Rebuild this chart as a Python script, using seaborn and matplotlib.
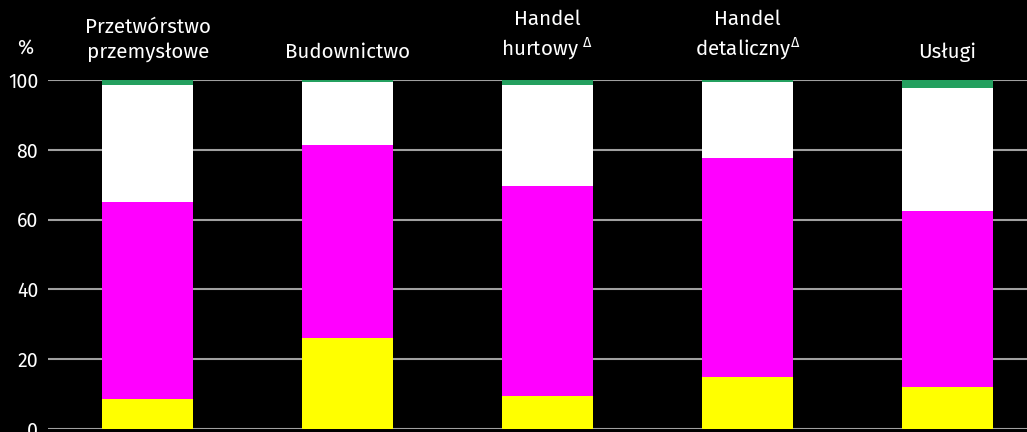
import matplotlib
matplotlib.use("Agg")
import matplotlib.pyplot as plt
import numpy as np
import pandas as pd
import seaborn as sns

categories = ["Przetwórstwo\nprzemysłowe", "Budownictwo", "Handel\nhurtowy $^{\\Delta}$",
              "Handel\ndetaliczny$^{\\Delta}$", "Usługi"]
yellow_vals = [8.6, 26.1, 9.5, 14.9, 12.0]
magenta_vals = [56.4, 55.3, 60.1, 62.8, 50.5]
white_vals = [33.6, 18.0, 29.0, 21.7, 35.2]
green_vals = [1.4, 0.6, 1.4, 0.6, 2.3]
y_ticks = [0, 20, 40, 60, 80, 100]

colors = {"green": "#24a05f", "white": "#ffffff", "magenta": "#ff00ff", "yellow": "#ffff00"}

df = pd.DataFrame({
    "cat": [str(i) for i in range(len(categories))],
    "yellow": yellow_vals,
    "magenta": magenta_vals,
    "white": white_vals,
    "green": green_vals,
})
# cumulative tops, drawn from the tallest down so each layer covers the next
df["c_yellow"] = df["yellow"]
df["c_magenta"] = df["c_yellow"] + df["magenta"]
df["c_white"] = df["c_magenta"] + df["white"]
df["c_green"] = df["c_white"] + df["green"]

sns.set_style("dark")
plt.rcParams["font.family"] = ["Fira Sans", "Open Sans", "DejaVu Sans"]
plt.rcParams["mathtext.fontset"] = "custom"
plt.rcParams["mathtext.rm"] = "Fira Sans"

fig = plt.figure(figsize=(10.27, 4.32), dpi=100, facecolor="black")
ax = fig.add_axes([48 / 1027, 1 - 429 / 432, 1 - 48 / 1027, (429 - 80) / 432])
ax.set_facecolor("black")

for y in y_ticks:
    ax.axhline(y, color="#a0a0a0", lw=1.5, zorder=0)

for layer in ["green", "white", "magenta", "yellow"]:
    sns.barplot(data=df, x="cat", y="c_" + layer, color=colors[layer], width=0.455,
                saturation=1, edgecolor="none", linewidth=0, ax=ax, zorder=2)

ax.set_xlim(-0.5, 4.4)
ax.set_ylim(0, 100)
ax.set_xlabel("")
ax.set_ylabel("")
ax.set_xticks([])
ax.set_yticks(y_ticks)
ax.set_yticklabels([str(v) for v in y_ticks], color="white", fontsize=14)
ax.tick_params(axis="y", length=0, pad=7)
ax.grid(False)
for s in ax.spines.values():
    s.set_visible(False)

for i, lab in enumerate(categories):
    ax.text(i, 105.2, lab, ha="center", va="bottom", color="white", fontsize=14.8,
            linespacing=1.32, clip_on=False)

fig.text(25 / 1027, 1 - 48 / 432, "%", ha="center", va="center", color="white", fontsize=14)

fig.savefig("out.png", dpi=100, facecolor="black")
